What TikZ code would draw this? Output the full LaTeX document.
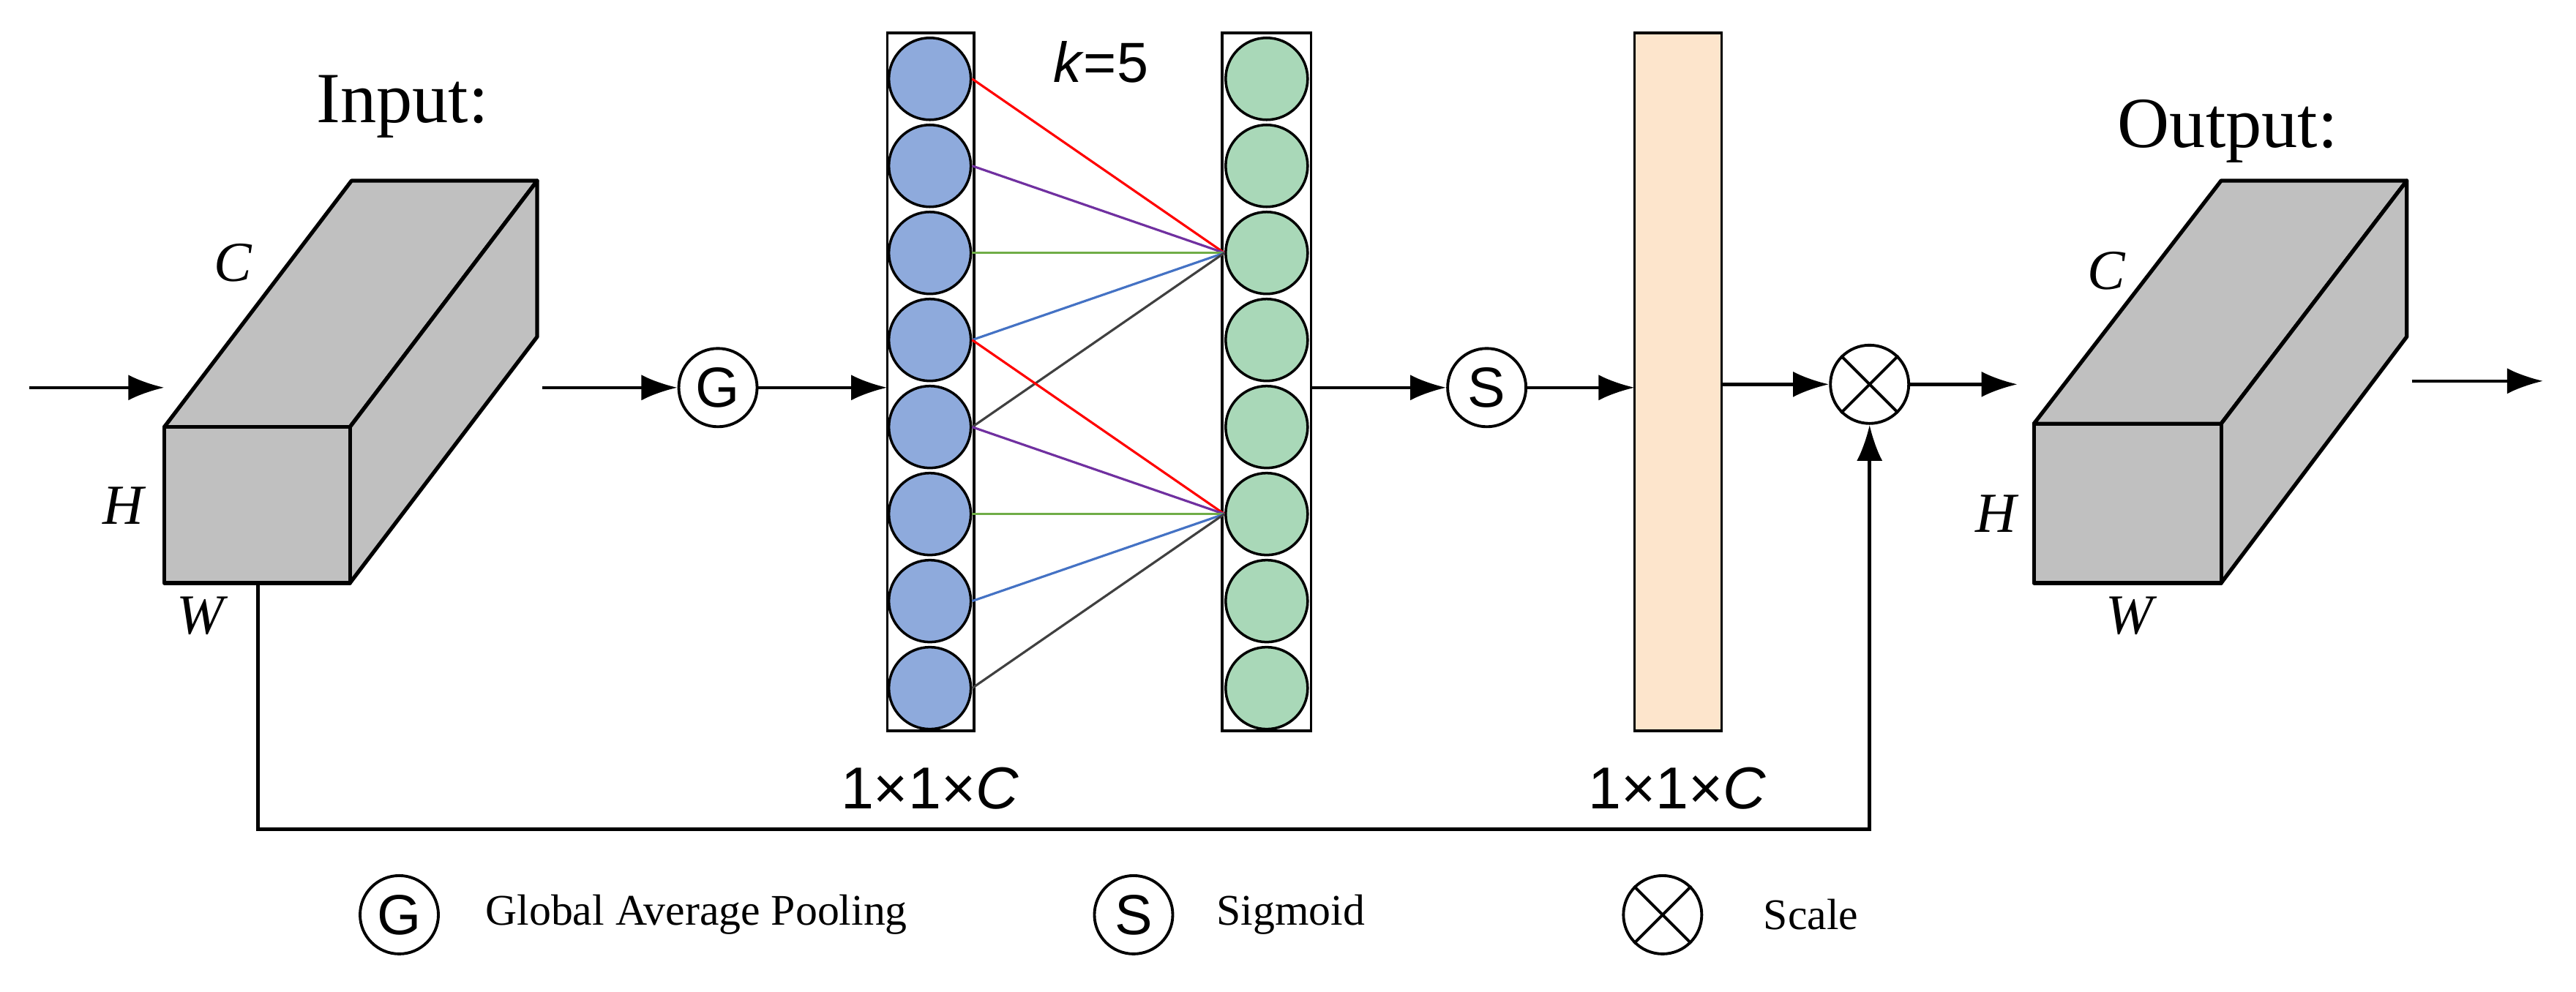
\documentclass[tikz,border=0pt]{standalone}
\usepackage{fontspec}
\setmainfont{Liberation Serif}
\newfontfamily\sansf{Liberation Sans}
\usetikzlibrary{arrows.meta}
\definecolor{cubegray}{HTML}{C0C0C0}
\definecolor{poolblue}{HTML}{8EAADC}
\definecolor{convgreen}{HTML}{A9D8B8}
\definecolor{scaleorange}{HTML}{FDE5CC}
\definecolor{linkpurple}{HTML}{7030A0}
\definecolor{linkgreen}{HTML}{70AD47}
\definecolor{linkblue}{HTML}{4472C4}
\definecolor{linkgray}{HTML}{404040}
\tikzset{
  flow/.style={-{Latex[length=14pt,width=10pt]}, line width=1.3pt},
  op/.style={draw, circle, line width=1.1pt, minimum size=1.07cm, inner sep=0pt, font=\sansf\fontsize{22}{22}\selectfont},
  cell/.style={draw, circle, line width=1pt, minimum size=1.12cm, inner sep=0pt},
  column/.style={draw, line width=1pt},
  face/.style={draw, fill=cubegray, line width=1.5pt, line join=round},
  dim/.style={font=\fontsize{22}{22}\selectfont\itshape},
  lbl/.style={font=\fontsize{28}{28}\selectfont},
  size/.style={font=\sansf\fontsize{23}{23}\selectfont},
  legend/.style={font=\fontsize{17}{17}\selectfont, anchor=west}
}
\begin{document}
\begin{tikzpicture}[x=0.02245cm, y=-0.02245cm]
    \useasboundingbox (0,0) rectangle (1568,604);
    %Input cube
        \draw[face] (100,260) -- (213,260) -- (327,110) -- (214,110) -- cycle;
        \draw[face] (213,260) -- (327,110) -- (327,205) -- (213,355) -- cycle;
        \draw[face] (100,260) rectangle (213,355);
        \node[lbl] (inlbl) at (245,65) {Input:};
        \node[dim] (inC) at (142,160) {C};
        \node[dim] (inH) at (75,308) {H};
        \node[dim] (inW) at (122,375) {W};
        \coordinate (inL) at (18,236);
        \coordinate (inR) at (100,236);
        \coordinate (inOut) at (330,236);
        \coordinate (inBot) at (157,355);
    %Pooling
        \node[op] (gap) at (437,236) {G};
    %Columns
        \draw[column] (540,20) rectangle (593,445);
        \draw[column] (744,20) rectangle (798,445);
        \foreach \i in {1,...,8} {
            \node[cell, fill=poolblue] (l\i) at (566,{48+53*(\i-1)}) {};
            \node[cell, fill=convgreen] (r\i) at (771,{48+53*(\i-1)}) {};
        }
        \node[font=\sansf\fontsize{22}{22}\selectfont] (k) at (670,38) {\textit{k}=5};
        \coordinate (colL) at (540,236);
        \coordinate (colR) at (798,236);
    %Links
        \foreach \a/\c in {1/red,2/linkpurple,3/linkgreen,4/linkblue,5/linkgray} {
            \draw[\c, line width=0.9pt] (l\a.east) -- (r3.west);
        }
        \foreach \a/\c in {4/red,5/linkpurple,6/linkgreen,7/linkblue,8/linkgray} {
            \draw[\c, line width=0.9pt] (l\a.east) -- (r6.west);
        }
        \node[size] (sz1) at (566,480) {1×1×\textit{C}};
    %Sigmoid and weights
        \node[op] (sig) at (905,236) {S};
        \draw[column, fill=scaleorange] (995,20) rectangle (1048,445);
        \coordinate (wL) at (995,236);
        \coordinate (wR) at (1048,234);
        \node[size] (sz2) at (1021,480) {1×1×\textit{C}};
        \node[op] (mul) at (1138,234) {};
        \draw[line width=1.1pt] (mul.north east) -- (mul.south west) (mul.north west) -- (mul.south east);
    %Output cube
        \draw[face] (1238,258) -- (1352,258) -- (1465,110) -- (1352,110) -- cycle;
        \draw[face] (1352,258) -- (1465,110) -- (1465,205) -- (1352,355) -- cycle;
        \draw[face] (1238,258) rectangle (1352,355);
        \node[lbl] (outlbl) at (1356,80) {Output:};
        \node[dim] (outC) at (1282,165) {C};
        \node[dim] (outH) at (1215,313) {H};
        \node[dim] (outW) at (1296,375) {W};
        \coordinate (outL) at (1228,234);
        \coordinate (outR) at (1468,232);
        \coordinate (outE) at (1548,232);
    %Arrows
        \draw[flow] (inL) -- (inR);
        \draw[flow] (inOut) -- (gap);
        \draw[flow] (gap) -- (colL);
        \draw[flow] (colR) -- (sig);
        \draw[flow] (sig) -- (wL);
        \draw[flow] (wR) -- (mul.west);
        \draw[flow] (mul.east) -- (outL);
        \draw[flow] (outR) -- (outE);
        \draw[flow] (inBot) |- (1138,505) -- (mul.south);
    %Legend
        \node[op] (lg) at (243,557) {G};
        \node[legend] (lgt) at (290,557) {Global Average Pooling};
        \node[op] (ls) at (690,557) {S};
        \node[legend] (lst) at (735,557) {Sigmoid};
        \node[op] (lx) at (1012,557) {};
        \draw[line width=1.1pt] (lx.north east) -- (lx.south west) (lx.north west) -- (lx.south east);
        \node[legend] (lxt) at (1068,557) {Scale};
\end{tikzpicture}
\end{document}
